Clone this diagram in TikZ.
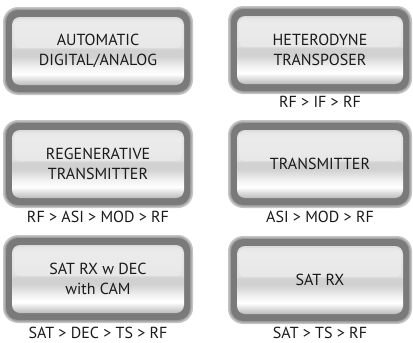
\documentclass[tikz,border=0pt]{standalone}
\usepackage{fontspec}
\setmainfont{PT Sans}
\definecolor{txt}{HTML}{1A1A1A}
\definecolor{ringc}{HTML}{7A7A7A}
\definecolor{haloc}{HTML}{C4C4C4}
\definecolor{halob}{HTML}{A0A0A0}
\pgfdeclareverticalshading{btnface}{100bp}{%
  color(0bp)=(black!26); color(25bp)=(black!26); color(27bp)=(black!20);
  color(33bp)=(white); color(38bp)=(black!5); color(46bp)=(black!18);
  color(51bp)=(black!18); color(53bp)=(black!12); color(70bp)=(black!10);
  color(75bp)=(black!14); color(100bp)=(black!14)}
\tikzset{
  halo/.style={fill=haloc, rounded corners=15pt},
  halo2/.style={fill=halob, rounded corners=14pt},
  ring/.style={fill=ringc, rounded corners=12pt},
  face/.style={shading=btnface, rounded corners=8pt},
  facetext/.style={minimum height=68pt, inner sep=0pt, align=center, text=txt,
    font=\fontsize{16}{20}\selectfont},
  gloss/.style={fill=white, opacity=0.25, rounded corners=6pt},
  lbl/.style={text=txt, font=\fontsize{16}{18}\selectfont, inner sep=0pt}
}
% #1 name, #2 cx, #3 cy, #4 total width, #5 text
\newcommand\mybtn[5]{%
  \fill[halo] ({#2-#4/2},{#3-44}) rectangle ({#2+#4/2},{#3+44});
  \fill[halo2] ({#2-#4/2+1.5},{#3-42.5}) rectangle ({#2+#4/2-1.5},{#3+42.5});
  \fill[ring] ({#2-#4/2+3},{#3-41}) rectangle ({#2+#4/2-3},{#3+41});
  \path[face] ({#2-#4/2+9},{#3-34}) rectangle ({#2+#4/2-9},{#3+34});
  \fill[gloss] ({#2-#4/2+11},{#3-32}) rectangle ({#2+#4/2-11},{#3-3});
  \node[facetext, minimum width={#4-18}] (#1) at (#2,#3) {#5};
}
\begin{document}
\begin{tikzpicture}[x=1pt,y=-1pt]
\useasboundingbox (0,0) rectangle (413,343);
\mybtn{b1}{98}{51}{190}{AUTOMATIC\\DIGITAL/ANALOG}
\mybtn{b2}{320}{50}{184}{HETERODYNE\\TRANSPOSER}
\node[lbl] (l2) at (320,102) {RF > IF > RF};
\mybtn{b3}{98}{164}{190}{REGENERATIVE\\TRANSMITTER}
\node[lbl] (l3) at (98,217) {RF > ASI > MOD > RF};
\mybtn{b4}{320}{164}{184}{TRANSMITTER}
\node[lbl] (l4) at (320,217) {ASI > MOD > RF};
\mybtn{b5}{98}{279}{190}{SAT RX w DEC\\with CAM}
\node[lbl] (l5) at (98,333) {SAT > DEC > TS > RF};
\mybtn{b6}{320}{280}{184}{SAT RX}
\node[lbl] (l6) at (320,333) {SAT > TS > RF};
\end{tikzpicture}
\end{document}
